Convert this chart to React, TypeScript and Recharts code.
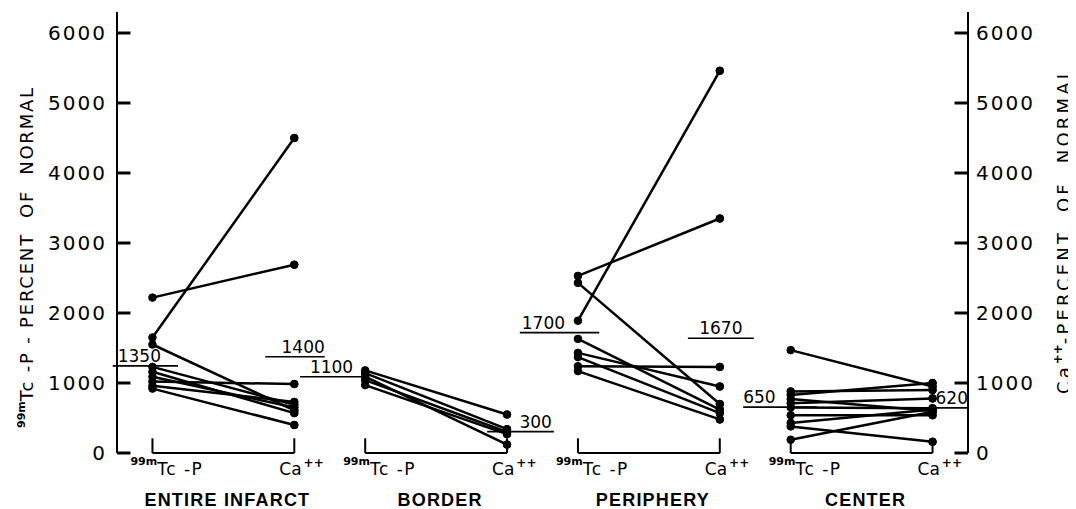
import { ComposedChart, Line, Scatter, XAxis, YAxis, ReferenceLine } from 'recharts';

const groups = ['ENTIRE INFARCT', 'BORDER', 'PERIPHERY', 'CENTER'];

// percent of normal, one pair per heart (99mTc-P first, Ca++ second)
const tcEntire = [2220, 1650, 1550, 1230, 1160, 1090, 1020, 960, 920];
const caEntire = [2690, 4500, 610, 690, 570, 650, 985, 730, 400];
const tcBorder = [1180, 1140, 1090, 1040, 970];
const caBorder = [550, 340, 120, 300, 270];
const tcPeriph = [2530, 2430, 1890, 1630, 1430, 1370, 1240, 1170];
const caPeriph = [3350, 700, 5460, 620, 950, 570, 1230, 480];
const tcCenter = [1470, 880, 830, 770, 710, 650, 540, 430, 380, 190];
const caCenter = [950, 900, 1000, 600, 780, 640, 540, 620, 160, 590];

const tcValues = [tcEntire, tcBorder, tcPeriph, tcCenter];
const caValues = [caEntire, caBorder, caPeriph, caCenter];

// printed means and the level their bar is drawn at
const tcMeanLabels = ['1350', '1100', '1700', '650'];
const tcMeanLevels = [1245, 1090, 1720, 655];
const caMeanLabels = ['1400', '300', '1670', '620'];
const caMeanLevels = [1375, 305, 1640, 645];

const yTicks = [0, 1000, 2000, 3000, 4000, 5000, 6000];

// layout
const tcPos = (g: number) => 3 * g + 0.5;
const caPos = (g: number) => 3 * g + 2.5;
const tcMeanSpan = [[-0.56, 0.36], [-0.92, -0.03], [-0.82, 0.3], [-0.67, 0.37]];
const caMeanSpan = [[-0.41, 0.43], [-0.28, 0.66], [-0.45, 0.48], [-0.34, 0.5]];
const tcMeanAlign = [['start', 5], ['middle', 0], ['start', 2], ['start', 0]];
const caMeanAlign = [['end', 0], ['end', -2], ['middle', 0], ['end', 0]];
const bracketRise = 210;
const X_MAX = 12;
const innerTick = 0.19; // inward tick marks, in x units

const FONT = '"DejaVu Sans", sans-serif';
const BOLD_FONT = '"Liberation Sans", Arial, sans-serif';

const LeftTick = ({ x, y, payload }: any) => (
  <text x={Number(x) + 2} y={y} textAnchor="end" dominantBaseline="central" fontFamily={FONT} fontSize={20} letterSpacing={2} fill="#000">
    {payload.value}
  </text>
);

const RightTick = ({ x, y, payload }: any) => (
  <text x={x} y={y} textAnchor="start" dominantBaseline="central" fontFamily={FONT} fontSize={20} letterSpacing={2} fill="#000">
    {payload.value}
  </text>
);

const SeriesTick = ({ x, y, payload }: any) => {
  const isTc = Math.abs((payload.value % 3) - 0.5) < 0.01;
  const px = Number(x);
  const py = Number(y);
  if (isTc) {
    return (
      <text x={px - 22} y={py + 22} fontFamily={FONT} fill="#000">
        <tspan fontSize={11} fontWeight="bold" dy={-10}>99m</tspan>
        <tspan fontSize={17} dy={10} letterSpacing={1.5}>Tc -P</tspan>
      </text>
    );
  }
  return (
    <text x={px - 15} y={py + 22} fontFamily={FONT} fill="#000">
      <tspan fontSize={17}>Ca</tspan>
      <tspan fontSize={12} fontWeight="bold" dy={-8} dx={2}>++</tspan>
    </text>
  );
};

const GroupTick = ({ x, y, index }: any) => (
  <text x={Number(x) + 4} y={Number(y) + 31} textAnchor="middle" fontFamily={BOLD_FONT} fontWeight="bold" fontSize={18} letterSpacing={1.2} fill="#000">
    {groups[index]}
  </text>
);

const meanLabel = (text: string, align: string, shift: number) => (props: any) => {
  const vb = props.viewBox || {};
  const x0 = Number(vb.x ?? Math.min(vb.x1, vb.x2));
  const w = Number(vb.width ?? Math.abs(vb.x2 - vb.x1));
  const y0 = Number(vb.y ?? vb.y1);
  const tx = align === 'start' ? x0 + shift : align === 'end' ? x0 + w + shift : x0 + w / 2 + shift;
  return (
    <text x={tx} y={y0 - 4} textAnchor={align} fontFamily={FONT} fontSize={17} fill="#000">
      {text}
    </text>
  );
};

const LeftTitle = () => (
  <text x={25} y={249} transform="rotate(-90, 25, 249)" textAnchor="middle" fontFamily={FONT} fill="#000" style={{ whiteSpace: 'pre' }}>
    <tspan fontSize={11} fontWeight="bold" dy={-8}>99m</tspan>
    <tspan fontSize={18} dy={8} letterSpacing={1.8}>Tc -P - PERCENT  OF  NORMAL</tspan>
  </text>
);

const RightTitle = () => (
  <text x={1062} y={222} transform="rotate(-90, 1062, 222)" textAnchor="middle" fontFamily={FONT} fill="#000" style={{ whiteSpace: 'pre' }}>
    <tspan fontSize={18} letterSpacing={3}>Ca</tspan>
    <tspan fontSize={12} fontWeight="bold" dy={-8}>++</tspan>
    <tspan fontSize={18} dy={8} letterSpacing={3.2}>-PERCENT  OF  NORMAL</tspan>
  </text>
);

export default function App() {
  const seriesTicks = groups.flatMap((_g, g) => [tcPos(g), caPos(g)]);
  const groupTicks = groups.map((_g, g) => (tcPos(g) + caPos(g)) / 2);
  const caPoints = groups.flatMap((_g, g) => caValues[g].map((v) => ({ x: caPos(g), v })));

  return (
    <div style={{ width: 1068, height: 501, background: '#fff' }}>
      <ComposedChart width={1068} height={501} margin={{ top: 4, right: 38, bottom: 0, left: 49 }}>
        <XAxis
          type="number"
          dataKey="x"
          domain={[0, X_MAX]}
          ticks={seriesTicks}
          interval={0}
          axisLine={false}
          tickLine={false}
          tickSize={0}
          tickMargin={0}
          height={22}
          tick={<SeriesTick />}
        />
        <XAxis
          xAxisId="grp"
          type="number"
          dataKey="x"
          domain={[0, X_MAX]}
          ticks={groupTicks}
          interval={0}
          axisLine={false}
          tickLine={false}
          tickSize={0}
          tickMargin={0}
          height={34}
          tick={<GroupTick />}
        />
        <YAxis
          yAxisId="l"
          orientation="left"
          domain={[0, 6300]}
          ticks={yTicks}
          interval={0}
          width={60}
          tickSize={0}
          tickMargin={12}
          tickLine={false}
          axisLine={{ stroke: '#000', strokeWidth: 2 }}
          tick={<LeftTick />}
          label={{ content: () => <LeftTitle /> }}
        />
        <YAxis
          yAxisId="r"
          orientation="right"
          dataKey="v"
          domain={[0, 6300]}
          ticks={yTicks}
          interval={0}
          width={70}
          tickSize={0}
          tickMargin={8}
          tickLine={false}
          axisLine={{ stroke: '#000', strokeWidth: 2 }}
          tick={<RightTick />}
          label={{ content: () => <RightTitle /> }}
        />

        {/* inward tick marks on both value axes */}
        {yTicks.map((t) => (
          <ReferenceLine
            key={`lt-${t}`}
            yAxisId="l"
            ifOverflow="visible"
            segment={[{ x: 0, y: t }, { x: innerTick, y: t }]}
            stroke="#000"
            strokeWidth={3}
          />
        ))}
        {yTicks.map((t) => (
          <ReferenceLine
            key={`rt-${t}`}
            xAxisId="grp"
            yAxisId="r"
            ifOverflow="visible"
            segment={[{ x: X_MAX - innerTick, y: t }, { x: X_MAX, y: t }]}
            stroke="#000"
            strokeWidth={3}
          />
        ))}

        {groups.map((_g, g) => (
          <ReferenceLine
            key={`bh-${g}`}
            yAxisId="l"
            ifOverflow="visible"
            segment={[{ x: tcPos(g), y: 0 }, { x: caPos(g), y: 0 }]}
            stroke="#000"
            strokeWidth={2}
          />
        ))}
        {groups.map((_g, g) => (
          <ReferenceLine
            key={`bl-${g}`}
            yAxisId="l"
            ifOverflow="visible"
            segment={[{ x: tcPos(g), y: 0 }, { x: tcPos(g), y: bracketRise }]}
            stroke="#000"
            strokeWidth={2}
          />
        ))}
        {groups.map((_g, g) => (
          <ReferenceLine
            key={`br-${g}`}
            yAxisId="l"
            ifOverflow="visible"
            segment={[{ x: caPos(g), y: 0 }, { x: caPos(g), y: bracketRise }]}
            stroke="#000"
            strokeWidth={2}
          />
        ))}

        {groups.map((_g, g) => (
          <ReferenceLine
            key={`tm-${g}`}
            yAxisId="l"
            ifOverflow="visible"
            segment={[
              { x: tcPos(g) + tcMeanSpan[g][0], y: tcMeanLevels[g] },
              { x: tcPos(g) + tcMeanSpan[g][1], y: tcMeanLevels[g] },
            ]}
            stroke="#000"
            strokeWidth={1.6}
            label={meanLabel(tcMeanLabels[g], tcMeanAlign[g][0] as string, tcMeanAlign[g][1] as number)}
          />
        ))}
        {groups.map((_g, g) => (
          <ReferenceLine
            key={`cm-${g}`}
            yAxisId="l"
            ifOverflow="visible"
            segment={[
              { x: caPos(g) + caMeanSpan[g][0], y: caMeanLevels[g] },
              { x: caPos(g) + caMeanSpan[g][1], y: caMeanLevels[g] },
            ]}
            stroke="#000"
            strokeWidth={1.6}
            label={meanLabel(caMeanLabels[g], caMeanAlign[g][0] as string, caMeanAlign[g][1] as number)}
          />
        ))}

        {groups.flatMap((_g, g) =>
          tcValues[g].map((tc, i) => (
            <Line
              key={`p-${g}-${i}`}
              yAxisId="l"
              data={[
                { x: tcPos(g), v: tc },
                { x: caPos(g), v: caValues[g][i] },
              ]}
              dataKey="v"
              stroke="#000"
              strokeWidth={2.5}
              dot={{ r: 3.8, fill: '#000', stroke: '#000', strokeWidth: 1 }}
              activeDot={false}
              isAnimationActive={false}
            />
          ))
        )}

        {/* Ca++ values read against the right-hand axis */}
        <Scatter
          xAxisId="grp"
          yAxisId="r"
          data={caPoints}
          dataKey="v"
          isAnimationActive={false}
          shape={(p: any) => <circle cx={p.cx} cy={p.cy} r={4} fill="#000" />}
        />
      </ComposedChart>
    </div>
  );
}
